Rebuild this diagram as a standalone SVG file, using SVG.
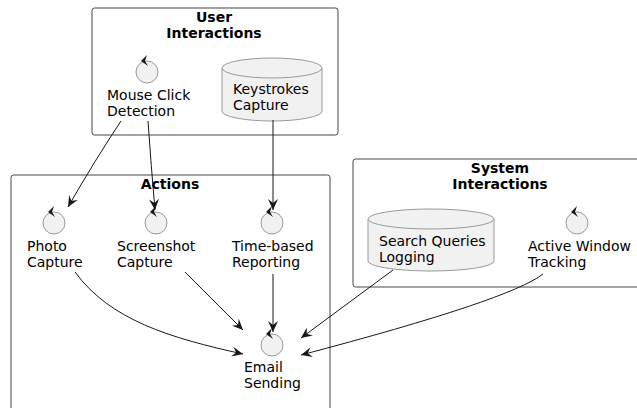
<svg xmlns="http://www.w3.org/2000/svg" width="637" height="408" viewBox="0 0 637 408">
<defs>
<style>
text{font-family:"DejaVu Sans",sans-serif;font-size:14px;fill:#000}
.t{font-weight:bold;text-anchor:middle}
.pkg{fill:#fff;stroke:#444;stroke-width:1}
.ctl{fill:#F1F1F1;stroke:#999;stroke-width:1}
.db{fill:#F1F1F1;stroke:#999;stroke-width:1}
.tick{fill:#181818}
.c{fill:none;stroke:#181818;stroke-width:1}
</style>
<marker id="ah" viewBox="0 0 12 10" refX="11" refY="5" markerWidth="12" markerHeight="10" markerUnits="userSpaceOnUse" orient="auto">
<path d="M0,0 L11,5 L0,10 L4,5 Z" fill="#181818"/>
</marker>
</defs>
<rect width="637" height="408" fill="#fff"/>
<g id="pkg-user">
<rect class="pkg" x="92" y="8" width="246" height="127" rx="2.5"/>
<text class="t" x="214" y="22">User</text>
<text class="t" x="214" y="38">Interactions</text>
</g>
<g id="pkg-actions">
<rect class="pkg" x="11" y="175" width="319" height="240" rx="2.5"/>
<text class="t" x="170" y="189">Actions</text>
</g>
<g id="pkg-system">
<rect class="pkg" x="353" y="159" width="300" height="128" rx="2.5"/>
<text class="t" x="500" y="173">System</text>
<text class="t" x="500" y="189">Interactions</text>
</g>
<g id="mouse">
<circle class="ctl" cx="147" cy="72" r="11"/>
<path class="tick" d="M141,61 L147,55 L145,61 L148,66 Z"/>
<text x="107" y="100">Mouse Click</text>
<text x="107" y="116">Detection</text>
</g>
<g id="keystrokes">
<path class="db" d="M222,68 A50,10 0 0 1 322,68 L322,111 A50,10 0 0 1 222,111 Z"/>
<path class="db" d="M222,68 A50,10 0 0 0 322,68" fill="none"/>
<text x="233" y="94">Keystrokes</text>
<text x="233" y="110">Capture</text>
</g>
<g id="photo">
<circle class="ctl" cx="54" cy="223" r="11"/>
<path class="tick" d="M48,212 L54,206 L52,212 L55,217 Z"/>
<text x="27" y="251">Photo</text>
<text x="27" y="267">Capture</text>
</g>
<g id="screenshot">
<circle class="ctl" cx="156" cy="223" r="11"/>
<path class="tick" d="M150,212 L156,206 L154,212 L157,217 Z"/>
<text x="117" y="251">Screenshot</text>
<text x="117" y="267">Capture</text>
</g>
<g id="timebased">
<circle class="ctl" cx="272" cy="223" r="11"/>
<path class="tick" d="M266,212 L272,206 L270,212 L273,217 Z"/>
<text x="232" y="251">Time-based</text>
<text x="232" y="267">Reporting</text>
</g>
<g id="email">
<circle class="ctl" cx="272" cy="345" r="11"/>
<path class="tick" d="M266,334 L272,328 L270,334 L273,339 Z"/>
<text x="244" y="372">Email</text>
<text x="244" y="388">Sending</text>
</g>
<g id="search">
<path class="db" d="M368,219 A63,10 0 0 1 494,219 L494,261 A63,10 0 0 1 368,261 Z"/>
<path class="db" d="M368,219 A63,10 0 0 0 494,219" fill="none"/>
<text x="379" y="246">Search Queries</text>
<text x="379" y="262">Logging</text>
</g>
<g id="activewindow">
<circle class="ctl" cx="577" cy="223" r="11"/>
<path class="tick" d="M571,212 L577,206 L575,212 L578,217 Z"/>
<text x="528" y="251">Active Window</text>
<text x="528" y="267">Tracking</text>
</g>
<g id="connectors">
<path class="c" marker-end="url(#ah)" d="M121,121 Q95,160 68,207"/>
<path class="c" marker-end="url(#ah)" d="M148,121 Q151,165 155,210"/>
<path class="c" marker-end="url(#ah)" d="M273,120 L273,210"/>
<path class="c" marker-end="url(#ah)" d="M75,272 C110,320 170,338 243,354"/>
<path class="c" marker-end="url(#ah)" d="M185,272 L243,330"/>
<path class="c" marker-end="url(#ah)" d="M273,274 L273,332"/>
<path class="c" marker-end="url(#ah)" d="M393,270 L301,338"/>
<path class="c" marker-end="url(#ah)" d="M543,274 Q510,300 301,355"/>
</g>
</svg>
